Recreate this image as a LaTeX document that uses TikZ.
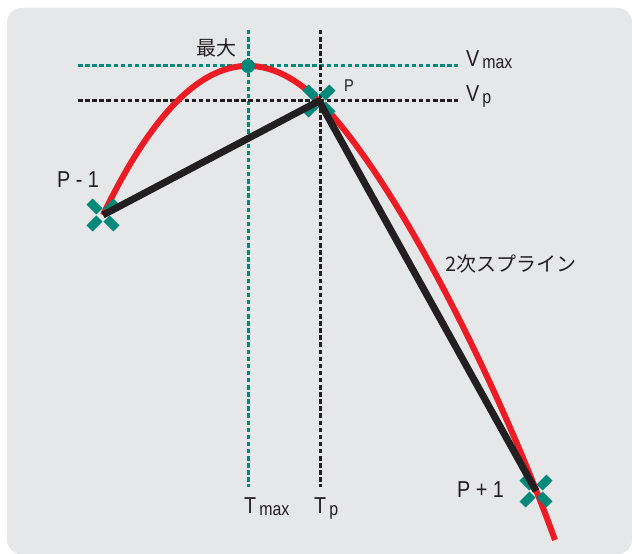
\documentclass[tikz,border=0pt]{standalone}
\usepackage{fontspec}
\setmainfont{Liberation Sans}[FakeStretch=0.86]
\newfontfamily\jp{Noto Sans CJK JP}
\definecolor{bgc}{HTML}{E6E7E8}
\definecolor{tg}{HTML}{00897A}
\definecolor{rd}{HTML}{ED1C24}
\definecolor{bk}{HTML}{231F20}
\tikzset{
  guide/.style={line width=3bp, dash pattern=on 4.5bp off 2.6bp},
  gguide/.style={guide, draw=tg},
  kguide/.style={guide, draw=bk},
  spline/.style={draw=rd, line width=6bp},
  chord/.style={draw=bk, line width=7bp, line join=round},
  xarm/.style={draw=tg, line width=8.5bp},
  xmark/.pic={\foreach \a in {45,135,225,315} \draw[xarm] (\a:5) -- (\a:19);},
  big/.style={text=bk, inner sep=0pt, anchor=base west, font=\fontsize{23bp}{23bp}\selectfont},
  small/.style={text=bk, inner sep=0pt, anchor=base west, font=\fontsize{17bp}{17bp}\selectfont},
  jlbl/.style={text=bk, inner sep=0pt, font=\jp\fontsize{20bp}{20bp}\selectfont}
}
\newcommand{\subtxt}[1]{\hspace{3bp}\raisebox{-2bp}{\fontsize{18.5bp}{18.5bp}\selectfont #1}}
\begin{document}
\begin{tikzpicture}[x=1bp,y=-1bp]
\useasboundingbox (0,0) rectangle (632,554);
\fill[white] (0,0) rectangle (632,554);
\fill[bgc, rounded corners=14bp] (7,8) rectangle (632,554);

% key points
\coordinate (pm1) at (103,215);
\coordinate (p) at (319,101);
\coordinate (pp1) at (536,491);
\coordinate (mx) at (248,66);
\coordinate (cend) at (555,540);

% guide line ends
\coordinate (vtT) at (248,30);
\coordinate (vtB) at (248,487);
\coordinate (vpT) at (320,30);
\coordinate (vpB) at (320,487);
\coordinate (hmL) at (78,66);
\coordinate (hmR) at (458,66);
\coordinate (hpL) at (78,101);
\coordinate (hpR) at (458,101);

\draw[gguide] (vtT) -- (vtB);
\draw[gguide] (hmL) -- (hmR);
\draw[kguide] (vpT) -- (vpB);
\draw[kguide] (hpL) -- (hpR);

% quadratic spline
\draw[spline] (pm1) .. controls (174.3,67) and (246.5,29.5) .. (p)
  .. controls (398,181) and (501,390) .. (cend);

% markers
\pic at (pm1) {xmark};
\pic at (p) {xmark};
\pic at (pp1) {xmark};

% chords
\draw[chord] (pm1) -- (p) -- (pp1);

% maximum point
\fill[tg] (mx) circle (7bp);

% labels
\node[jlbl] (lmax) at (216,47.5) {最大};
\node[jlbl, anchor=west] (lspl) at (445,264) {2次スプライン};
\node[big] (lvmax) at (466,67) {V\subtxt{max}};
\node[big] (lvp) at (466,102) {V\subtxt{p}};
\node[big] (ltmax) at (244,513) {T\subtxt{max}};
\node[big] (ltp) at (314,513) {T\subtxt{p}};
\node[small] (lp) at (344,92) {P};
\node[big] (lpm1) at (57,188) {P - 1};
\node[big] (lpp1) at (457,497) {P + 1};
\end{tikzpicture}
\end{document}
